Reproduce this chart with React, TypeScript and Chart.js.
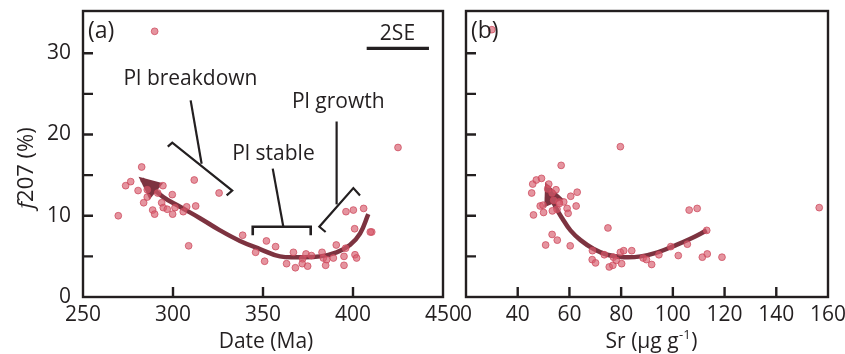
import React, { useEffect, useRef } from "react";
import { Chart, registerables } from "chart.js";

Chart.register(...registerables);

const INK = "#231f20";
const FONT = '"Open Sans", "Liberation Sans", Arial, sans-serif';
const POINT_FILL = "rgba(216, 92, 110, 0.66)";
const POINT_EDGE = "rgba(204, 70, 90, 0.72)";
const ARROW_COLOR = "#7d3340";

// ---------- Panel (a): f207 vs date ----------
const A_DATE_MA = [
  289.8, 425.0, 282.6, 273.7, 276.5, 280.6, 285.7, 294.4, 291.5, 311.8,
  325.6, 299.6, 283.7, 285.7, 293.7, 294.6, 296.8, 301.1, 307.6, 312.6,
  305.7, 288.7, 289.8, 299.8, 269.6, 308.7, 338.7, 345.9, 351.9, 350.9,
  357.0, 363.1, 366.9, 368.0, 372.0, 371.8, 373.9, 374.8, 376.9, 382.8,
  383.5, 384.8, 385.4, 389.1, 390.7, 395.0, 395.9, 395.0, 396.1, 400.2,
  400.9, 405.9, 401.1, 402.0, 410.4, 409.6,
];
const A_F207 = [
  32.7, 18.4, 16.0, 13.7, 14.2, 13.1, 13.2, 13.7, 12.8, 14.4,
  12.8, 12.6, 11.6, 12.3, 11.6, 11.0, 10.8, 11.0, 11.1, 11.2,
  10.5, 10.7, 10.2, 10.2, 10.0, 6.3, 7.6, 5.5, 6.9, 4.4,
  6.2, 4.1, 5.5, 3.6, 4.7, 4.1, 5.3, 3.8, 5.1, 5.5,
  4.8, 3.9, 4.6, 4.8, 6.4, 5.0, 6.0, 3.9, 10.5, 10.7,
  8.4, 10.9, 5.2, 4.8, 8.0, 8.0,
];
const A_ARROW_DATE = [408.5, 403.9, 398.3, 390.9, 381.7, 370.6, 359.4, 348.3, 337.2, 326.1, 315.0, 303.9, 294.6, 282.6];
const A_ARROW_F207 = [10.2, 7.8, 6.4, 5.5, 5.0, 4.9, 5.0, 5.9, 6.9, 8.2, 9.7, 11.1, 12.3, 14.5];

// ---------- Panel (b): f207 vs Sr ----------
const B_SR = [
  30.0, 79.7, 156.6, 56.8, 45.4, 45.8, 47.2, 49.2, 52.0, 51.6,
  54.8, 53.3, 60.5, 63.0, 62.6, 57.8, 56.0, 53.9, 48.7, 49.8,
  50.0, 53.4, 55.2, 59.1, 59.5, 46.1, 53.3, 55.3, 50.8, 60.3,
  74.9, 68.9, 68.8, 70.1, 73.5, 75.4, 76.8, 77.0, 78.1, 79.7,
  81.0, 80.2, 84.1, 88.5, 89.8, 91.8, 94.6, 99.2, 102.1, 105.6,
  106.3, 109.4, 113.1, 111.4, 113.3, 119.0, 56.1,
];
const B_F207 = [
  32.9, 18.5, 11.0, 16.2, 12.8, 13.9, 14.4, 14.6, 13.9, 13.3,
  13.2, 12.8, 12.4, 12.9, 11.2, 11.7, 11.7, 11.9, 11.2, 11.3,
  10.4, 10.6, 10.8, 10.9, 10.3, 10.1, 7.7, 7.0, 6.4, 6.3,
  8.5, 5.7, 4.6, 4.2, 5.2, 3.7, 3.9, 4.9, 4.5, 5.5,
  5.7, 4.1, 5.7, 4.8, 4.6, 4.0, 5.2, 6.2, 5.1, 6.5,
  10.7, 10.9, 8.2, 4.9, 5.3, 4.9, 11.5,
];
const B_ARROW_SR = [113.1, 107.0, 100.5, 94.1, 87.6, 81.1, 74.6, 69.4, 64.3, 60.4, 57.2, 54.6, 51.2];
const B_ARROW_F207 = [8.2, 7.2, 6.3, 5.5, 5.0, 4.9, 5.2, 5.9, 7.0, 8.2, 9.7, 11.1, 13.7];

// ---------- Axes ----------
const Y_MIN = 0;
const Y_MAX = 35.2;
const Y_TICKS = [0, 5, 10, 15, 20, 25, 30];
const Y_TICK_LABELS = ["0", "", "10", "", "20", "", "30"];
const A_X_TICKS = [250, 300, 350, 400, 450];
const A_X_TICK_LABELS = ["250", "300", "350", "400", "450"];
const B_X_TICKS = [20, 40, 60, 80, 100, 120, 140, 160];
const B_X_TICK_LABELS = ["0", "40", "60", "80", "100", "120", "140", "160"];

// ---------- Annotations, panel (a), in data units ----------
const BREAKDOWN_BRACKET_X = [297.1, 299.6, 332.9, 329.8];
const BREAKDOWN_BRACKET_Y = [18.5, 19.0, 13.1, 12.5];
const BREAKDOWN_LEADER_X = [315.9, 309.8];
const BREAKDOWN_LEADER_Y = [16.4, 24.2];
const STABLE_BRACKET_X = [344.3, 344.3, 376.5, 376.5];
const STABLE_BRACKET_Y = [7.6, 8.65, 8.65, 7.6];
const STABLE_LEADER_X = [361.3, 355.4];
const STABLE_LEADER_Y = [8.65, 15.8];
const GROWTH_BRACKET_X = [384.8, 381.3, 400.2, 403.9];
const GROWTH_BRACKET_Y = [8.0, 8.65, 13.4, 12.5];
const GROWTH_LEADER_X = [390.9, 390.9];
const GROWTH_LEADER_Y = [11.4, 21.6];
const LABEL_TEXTS = ["Pl breakdown", "Pl stable", "Pl growth", "2SE"];
const LABEL_X = [309.7, 355.8, 391.8, 424.7];
const LABEL_Y = [26.1, 16.9, 23.3, 31.6];
const SE_BAR_X = [407.6, 442.2];
const SE_BAR_Y = [30.6, 30.6];

const W = 845;
const H = 354;
const PLOT_TOP = 11;
const PLOT_BOTTOM = 297;

function drawPolyline(ctx: CanvasRenderingContext2D, chart: any, xs: number[], ys: number[], width: number) {
  const sx = chart.scales.x;
  const sy = chart.scales.y;
  ctx.save();
  ctx.strokeStyle = INK;
  ctx.lineWidth = width;
  ctx.lineJoin = "miter";
  ctx.lineCap = "butt";
  ctx.beginPath();
  xs.forEach((v, i) => {
    const px = sx.getPixelForValue(v);
    const py = sy.getPixelForValue(ys[i]);
    if (i === 0) ctx.moveTo(px, py);
    else ctx.lineTo(px, py);
  });
  ctx.stroke();
  ctx.restore();
}

function makePlugin(xTicks: number[], panelLabel: string, extras: (chart: any, ctx: CanvasRenderingContext2D) => void) {
  return {
    id: "panelDecor" + panelLabel,
    afterDatasetDraw(chart: any, args: any) {
      if (args.index !== 1) return;
      const meta = chart.getDatasetMeta(1);
      const pts = meta.data;
      const n = pts.length;
      const tip = pts[n - 1];
      const prev = pts[n - 2];
      let dx = tip.x - prev.x;
      let dy = tip.y - prev.y;
      const len = Math.hypot(dx, dy) || 1;
      dx /= len;
      dy /= len;
      const L = 23;
      const Wd = 10.5;
      const tx = tip.x + dx * 4;
      const ty = tip.y + dy * 4;
      const bx = tx - dx * L;
      const by = ty - dy * L;
      const ctx = chart.ctx;
      ctx.save();
      ctx.fillStyle = ARROW_COLOR;
      ctx.beginPath();
      ctx.moveTo(tx, ty);
      ctx.lineTo(bx - dy * Wd, by + dx * Wd);
      ctx.lineTo(bx + dy * Wd, by - dx * Wd);
      ctx.closePath();
      ctx.fill();
      ctx.restore();
    },
    afterDatasetsDraw(chart: any) {
      const ctx: CanvasRenderingContext2D = chart.ctx;
      const a = chart.chartArea;
      const sx = chart.scales.x;
      const sy = chart.scales.y;
      ctx.save();
      ctx.strokeStyle = INK;
      ctx.lineWidth = 2.4;
      ctx.strokeRect(a.left, a.top, a.right - a.left, a.bottom - a.top);
      ctx.beginPath();
      xTicks.forEach((v) => {
        const px = sx.getPixelForValue(v);
        if (px < a.left + 3 || px > a.right - 3) return;
        ctx.moveTo(px, a.bottom);
        ctx.lineTo(px, a.bottom - 10);
      });
      Y_TICKS.forEach((v) => {
        const py = sy.getPixelForValue(v);
        if (py < a.top + 3 || py > a.bottom - 3) return;
        ctx.moveTo(a.left, py);
        ctx.lineTo(a.left + 10, py);
      });
      ctx.stroke();
      ctx.fillStyle = INK;
      ctx.font = `23px ${FONT}`;
      ctx.textAlign = "left";
      ctx.textBaseline = "alphabetic";
      ctx.fillText(panelLabel, a.left + 5, a.top + 27);
      ctx.restore();
      extras(chart, ctx);
    },
  };
}

function makeChart(canvas: HTMLCanvasElement, panel: "a" | "b") {
  const isA = panel === "a";
  const xs = isA ? A_DATE_MA : B_SR;
  const ys = isA ? A_F207 : B_F207;
  const axs = isA ? A_ARROW_DATE : B_ARROW_SR;
  const ays = isA ? A_ARROW_F207 : B_ARROW_F207;
  const xTicks = isA ? A_X_TICKS : B_X_TICKS;
  const xLabels = isA ? A_X_TICK_LABELS : B_X_TICK_LABELS;

  const extras = (chart: any, ctx: CanvasRenderingContext2D) => {
    const a = chart.chartArea;
    ctx.save();
    ctx.fillStyle = INK;
    ctx.textBaseline = "alphabetic";
    if (isA) {
      drawPolyline(ctx, chart, BREAKDOWN_BRACKET_X, BREAKDOWN_BRACKET_Y, 2.2);
      drawPolyline(ctx, chart, BREAKDOWN_LEADER_X, BREAKDOWN_LEADER_Y, 2.2);
      drawPolyline(ctx, chart, STABLE_BRACKET_X, STABLE_BRACKET_Y, 2.6);
      drawPolyline(ctx, chart, STABLE_LEADER_X, STABLE_LEADER_Y, 2.2);
      drawPolyline(ctx, chart, GROWTH_BRACKET_X, GROWTH_BRACKET_Y, 2.2);
      drawPolyline(ctx, chart, GROWTH_LEADER_X, GROWTH_LEADER_Y, 2.2);
      drawPolyline(ctx, chart, SE_BAR_X, SE_BAR_Y, 3.2);
      ctx.font = `21px ${FONT}`;
      ctx.textAlign = "center";
      LABEL_TEXTS.forEach((t, i) => {
        ctx.fillText(t, chart.scales.x.getPixelForValue(LABEL_X[i]), chart.scales.y.getPixelForValue(LABEL_Y[i]));
      });
      // x title
      ctx.font = `21px ${FONT}`;
      ctx.fillText("Date (Ma)", (a.left + a.right) / 2 + 3, 347.5);
      // y title with italic f
      ctx.save();
      ctx.translate(33, 168);
      ctx.rotate(-Math.PI / 2);
      const fFont = `italic 22px ${FONT}`;
      const rFont = `22px ${FONT}`;
      ctx.font = fFont;
      const w1 = ctx.measureText("f").width;
      ctx.font = rFont;
      const w2 = ctx.measureText("207 (%)").width;
      const start = -(w1 + w2) / 2;
      ctx.textAlign = "left";
      ctx.font = fFont;
      ctx.fillText("f", start, 0);
      ctx.font = rFont;
      ctx.fillText("207 (%)", start + w1, 0);
      ctx.restore();
    } else {
      ctx.textAlign = "left";
      const main = `21px ${FONT}`;
      const sup = `13px ${FONT}`;
      ctx.font = main;
      const p1 = "Sr (µg g";
      const w1 = ctx.measureText(p1).width;
      ctx.font = sup;
      const p2 = "-1";
      const w2 = ctx.measureText(p2).width;
      ctx.font = main;
      const w3 = ctx.measureText(")").width;
      const cx = (a.left + a.right) / 2 + 4;
      const x0 = cx - (w1 + w2 + w3) / 2;
      const base = 347.5;
      ctx.fillText(p1, x0, base);
      ctx.font = sup;
      ctx.fillText(p2, x0 + w1 + 0.5, base - 9);
      ctx.font = main;
      ctx.fillText(")", x0 + w1 + w2 + 1, base);
    }
    ctx.restore();
  };

  const zeroPad = (s: any) => {
    s.paddingTop = 0;
    s.paddingBottom = 0;
    s.paddingLeft = 0;
    s.paddingRight = 0;
  };

  return new Chart(canvas, {
    type: "scatter",
    data: {
      datasets: [
        {
          data: xs.map((x, i) => ({ x, y: ys[i] })),
          backgroundColor: POINT_FILL,
          borderColor: POINT_EDGE,
          borderWidth: 1,
          pointRadius: 3.4,
          showLine: false,
          order: 0,
        },
        {
          data: axs.map((x, i) => ({ x, y: ays[i] })),
          showLine: true,
          borderColor: ARROW_COLOR,
          borderWidth: 4.5,
          borderCapStyle: "butt",
          pointRadius: 0,
          tension: 0.4,
          fill: false,
          order: 1,
        },
      ],
    },
    options: {
      responsive: false,
      animation: false,
      devicePixelRatio: 1,
      events: [],
      layout: {
        padding: isA
          ? { left: 0, top: PLOT_TOP, right: W - 443, bottom: 0 }
          : { left: 466, top: PLOT_TOP, right: W - 828, bottom: 0 },
      },
      plugins: { legend: { display: false }, tooltip: { enabled: false } },
      scales: {
        x: {
          type: "linear",
          min: isA ? 250 : 20,
          max: isA ? 450 : 160,
          afterBuildTicks: (s: any) => {
            s.ticks = xTicks.map((v) => ({ value: v }));
          },
          afterFit: (s: any) => {
            s.height = H - PLOT_BOTTOM;
            zeroPad(s);
          },
          grid: { display: false, drawTicks: false },
          border: { display: false },
          ticks: {
            autoSkip: false,
            maxRotation: 0,
            padding: 5,
            color: INK,
            font: { family: FONT, size: 21 },
            callback: (_v: any, i: number) => xLabels[i],
          },
        },
        y: {
          type: "linear",
          min: Y_MIN,
          max: Y_MAX,
          display: isA,
          afterBuildTicks: (s: any) => {
            s.ticks = Y_TICKS.map((v) => ({ value: v }));
          },
          afterFit: (s: any) => {
            s.width = isA ? 83 : 0;
            zeroPad(s);
          },
          grid: { display: false, drawTicks: false },
          border: { display: false },
          ticks: {
            autoSkip: false,
            padding: 12,
            color: INK,
            font: { family: FONT, size: 21 },
            callback: (_v: any, i: number) => Y_TICK_LABELS[i],
          },
        },
      },
    },
    plugins: [makePlugin(xTicks, isA ? "(a)" : "(b)", extras)],
  } as any);
}

export default function App() {
  const refA = useRef<HTMLCanvasElement>(null);
  const refB = useRef<HTMLCanvasElement>(null);
  useEffect(() => {
    const ca = makeChart(refA.current!, "a");
    const cb = makeChart(refB.current!, "b");
    return () => {
      ca.destroy();
      cb.destroy();
    };
  }, []);
  const cs: React.CSSProperties = { position: "absolute", left: 0, top: 0, width: W, height: H };
  return (
    <div style={{ position: "fixed", left: 0, top: 0, width: W, height: H, background: "#ffffff" }}>
      <canvas ref={refA} width={W} height={H} style={cs} />
      <canvas ref={refB} width={W} height={H} style={cs} />
    </div>
  );
}
